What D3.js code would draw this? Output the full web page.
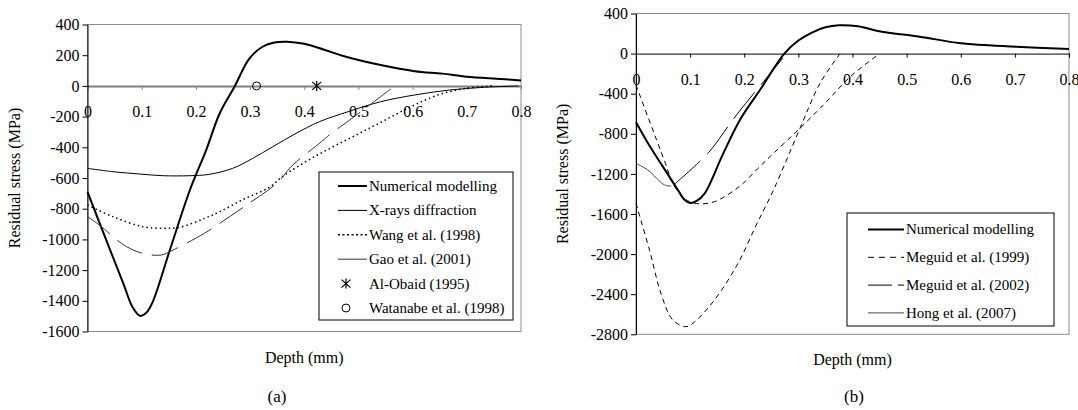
<!DOCTYPE html>
<html>
<head>
<meta charset="utf-8">
<script src="https://cdn.jsdelivr.net/npm/d3@7"></script>
<style>
  body { margin: 0; background: #fff; }
  svg { display: block; font-family: "Liberation Serif", "Times New Roman", serif; }
</style>
</head>
<body>
<svg id="fig" width="1078" height="410"></svg>
<script>
// ---------- data (depth in mm, stress in MPa) ----------
const xTicks = [0, 0.1, 0.2, 0.3, 0.4, 0.5, 0.6, 0.7, 0.8]
const xTickLabels = ["0", "0.1", "0.2", "0.3", "0.4", "0.5", "0.6", "0.7", "0.8"]
const yTicksA = [400, 200, 0, -200, -400, -600, -800, -1000, -1200, -1400, -1600]
const yTicksB = [400, 0, -400, -800, -1200, -1600, -2000, -2400, -2800]

// panel (a)
const numericalA = [[0,-690],[0.033,-990],[0.066,-1286],[0.083,-1440],[0.097,-1498],[0.108,-1480],[0.12,-1410],
  [0.152,-1069],[0.189,-678],[0.219,-418],[0.244,-178],[0.272,0],[0.298,175],[0.323,255],[0.345,283],
  [0.368,288],[0.4,274],[0.438,234],[0.477,190],[0.541,136],[0.604,96],[0.655,80],[0.7,60],[0.764,45],[0.8,35]]
const xraysA = [[0,-537],[0.047,-559],[0.096,-574],[0.139,-585],[0.189,-585],[0.225,-576],[0.268,-537],
  [0.305,-472],[0.342,-396],[0.385,-309],[0.428,-233],[0.481,-168],[0.541,-103],[0.604,-59],[0.668,-27],
  [0.732,-9],[0.796,0]]
const wangA = [[0,-776],[0.047,-852],[0.102,-917],[0.139,-928],[0.17,-921],[0.216,-863],[0.244,-820],
  [0.287,-740],[0.336,-660],[0.361,-587],[0.422,-455],[0.484,-341],[0.54,-240],[0.6,-130],[0.65,-55],
  [0.7,-15],[0.75,0]]
const gaoA = [[0,-852],[0.022,-906],[0.053,-1000],[0.072,-1047],[0.102,-1091],[0.136,-1102],[0.158,-1069],
  [0.216,-960],[0.244,-895],[0.298,-765],[0.349,-635],[0.379,-515],[0.432,-363],[0.45,-309],[0.484,-222],
  [0.567,0]]
const alObaidA = [[0.423, 0]]
const watanabeA = [[0.312, 0]]

// panel (b)
const numericalB = [[0,-685],[0.025,-920],[0.05,-1130],[0.075,-1340],[0.09,-1460],[0.1,-1490],[0.112,-1470],
  [0.127,-1394],[0.16,-1010],[0.192,-662],[0.229,-363],[0.274,0],[0.3,130],[0.325,210],[0.35,262],
  [0.375,282],[0.41,272],[0.454,218],[0.524,169],[0.6,103],[0.702,69],[0.8,46]]
const meguid1999aB = [[0,-313],[0.053,-1075],[0.0715,-1328],[0.099,-1477],[0.139,-1487],[0.19,-1330],
  [0.2255,-1144],[0.254,-995],[0.303,-745],[0.352,-480],[0.396,-230],[0.45,0]]
const meguid1999bB = [[0,-1493],[0.025,-1962],[0.047,-2408],[0.068,-2657],[0.093,-2724],[0.1085,-2674],
  [0.145,-2458],[0.1885,-2092],[0.222,-1712],[0.254,-1361],[0.303,-745],[0.34,-296],[0.377,0]]
const meguid2002B = [[0.072,-1300],[0.127,-1028],[0.142,-935],[0.186,-610],[0.2255,-346],[0.2785,0]]
const hongB = [[0,-1094],[0.022,-1162],[0.053,-1311],[0.065,-1320]]

const svg = d3.select("#fig")

function drawPanel(p) {
  const g = svg.append("g")
  const x = d3.scaleLinear().domain([0, 0.8]).range([p.left, p.right])
  const y = d3.scaleLinear().domain([p.yTicks[p.yTicks.length - 1], p.yTicks[0]]).range([p.bottom, p.top])

  // plot area frame
  g.append("rect")
    .attr("x", p.left).attr("y", p.top)
    .attr("width", p.right - p.left).attr("height", p.bottom - p.top)
    .attr("fill", "none").attr("stroke", "#8a8a8a").attr("stroke-width", 1)

  // zero axis with ticks and labels
  const xAxis = g.append("g")
    .attr("transform", `translate(0,${y(0)})`)
    .call(d3.axisBottom(x).tickValues(xTicks).tickSize(4).tickSizeOuter(0).tickPadding(16)
      .tickFormat((d, i) => xTickLabels[i]))
  xAxis.select(".domain").attr("stroke", p.zeroColor).attr("stroke-width", p.zeroWidth)
  xAxis.selectAll(".tick line").attr("stroke", p.zeroColor)
  xAxis.selectAll("text").attr("font-size", 16).attr("font-family", "Liberation Serif").attr("fill", "#000")

  // y axis
  const yAxis = g.append("g")
    .attr("transform", `translate(${p.left},0)`)
    .call(d3.axisLeft(y).tickValues(p.yTicks).tickSize(5).tickSizeOuter(0).tickPadding(3)
      .tickFormat(d => String(d)))
  yAxis.select(".domain").attr("stroke", "#000")
  yAxis.selectAll("text").attr("font-size", 16).attr("font-family", "Liberation Serif").attr("fill", "#000")

  // titles
  g.append("text")
    .attr("x", (p.left + p.right) / 2).attr("y", p.bottom + 31)
    .attr("text-anchor", "middle").attr("font-size", 16)
    .text("Depth (mm)")
  g.append("text")
    .attr("transform", `translate(${p.yTitleX},${(p.top + p.bottom) / 2}) rotate(-90)`)
    .attr("text-anchor", "middle").attr("font-size", 16)
    .text("Residual stress (MPa)")
  g.append("text")
    .attr("x", p.capX).attr("y", 402)
    .attr("text-anchor", "middle").attr("font-size", 17)
    .text(p.caption)

  const line = d3.line()
    .x(d => x(d[0])).y(d => y(d[1]))
    .curve(d3.curveCatmullRom.alpha(0.5))

  p.series.forEach(s => {
    if (s.marker) {
      s.data.forEach(d => drawMarker(g, s.marker, x(d[0]), y(d[1])))
      return
    }
    s.sets.forEach(data => {
      g.append("path")
        .datum(data)
        .attr("d", line)
        .attr("fill", "none")
        .attr("stroke", s.color)
        .attr("stroke-width", s.width)
        .attr("stroke-dasharray", s.dash || null)
    })
  })

  // legend
  const lg = p.legend
  g.append("rect")
    .attr("x", lg.x).attr("y", lg.y).attr("width", lg.w).attr("height", lg.h)
    .attr("fill", "#fff").attr("stroke", "#000").attr("stroke-width", 1)
  p.series.forEach((s, i) => {
    const cy = lg.y + lg.first + i * lg.step
    if (s.marker) {
      drawMarker(g, s.marker, lg.x + lg.s0 + 8, cy)
    } else {
      g.append("line")
        .attr("x1", lg.x + lg.s0).attr("x2", lg.x + lg.s1)
        .attr("y1", cy).attr("y2", cy)
        .attr("stroke", s.color).attr("stroke-width", s.width)
        .attr("stroke-dasharray", s.legendDash || null)
    }
    g.append("text")
      .attr("x", lg.x + lg.s1 + 2).attr("y", cy).attr("dy", "0.33em")
      .attr("font-size", 15)
      .text(s.name)
  })
}

function drawMarker(g, type, cx, cy) {
  if (type === "circle") {
    g.append("circle").attr("cx", cx).attr("cy", cy).attr("r", 4)
      .attr("fill", "none").attr("stroke", "#000").attr("stroke-width", 1)
  } else {
    const p = d3.path()
    p.moveTo(cx, cy - 5); p.lineTo(cx, cy + 5)
    p.moveTo(cx - 4.5, cy - 4); p.lineTo(cx + 4.5, cy + 4)
    p.moveTo(cx - 4.5, cy + 4); p.lineTo(cx + 4.5, cy - 4)
    g.append("path").attr("d", p.toString()).attr("stroke", "#000").attr("stroke-width", 1.2).attr("fill", "none")
  }
}

drawPanel({
  left: 87.5, right: 521, top: 24.5, bottom: 331.5,
  yTicks: yTicksA, zeroColor: "#808080", zeroWidth: 2,
  yTitleX: 20, capX: 277, caption: "(a)",
  series: [
    { name: "Numerical modelling", sets: [numericalA], color: "#000", width: 2 },
    { name: "X-rays diffraction", sets: [xraysA], color: "#000", width: 1 },
    { name: "Wang et al. (1998)", sets: [wangA], color: "#000", width: 1.5, dash: "1.5,3", legendDash: "2,2.5" },
    { name: "Gao et al. (2001)", sets: [gaoA], color: "#333", width: 1, dash: "28,10" },
    { name: "Al-Obaid (1995)", data: alObaidA, marker: "asterisk" },
    { name: "Watanabe et al. (1998)", data: watanabeA, marker: "circle" }
  ],
  legend: { x: 319, y: 172, w: 194, h: 148, first: 14, step: 24.4, s0: 19, s1: 48 }
})

drawPanel({
  left: 636, right: 1069, top: 13.5, bottom: 334.3,
  yTicks: yTicksB, zeroColor: "#000", zeroWidth: 1,
  yTitleX: 568, capX: 854, caption: "(b)",
  series: [
    { name: "Numerical modelling", sets: [numericalB], color: "#000", width: 2 },
    { name: "Meguid et al. (1999)", sets: [meguid1999aB, meguid1999bB], color: "#000", width: 1, dash: "5,4", legendDash: "6,5" },
    { name: "Meguid et al. (2002)", sets: [meguid2002B], color: "#000", width: 1, dash: "34,10", legendDash: "24,6" },
    { name: "Hong et al. (2007)", sets: [hongB], color: "#444", width: 1 }
  ],
  legend: { x: 847, y: 213, w: 207, h: 113, first: 16.5, step: 27.8, s0: 21, s1: 57 }
})
</script>
</body>
</html>
